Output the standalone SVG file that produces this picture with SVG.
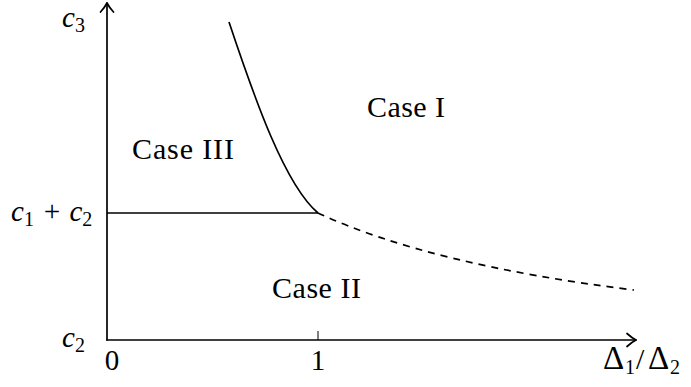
<svg xmlns="http://www.w3.org/2000/svg" width="691" height="387" viewBox="0 0 691 387">
<style>
.ax{fill:none;stroke:#000;stroke-width:1.7;stroke-linecap:round;stroke-linejoin:round}
.cv{fill:none;stroke:#000;stroke-width:1.7}
.ds{stroke-dasharray:7 6}
.t{font-family:"Liberation Serif","DejaVu Serif",serif;font-size:29px;fill:#000}
.c{font-family:"Liberation Serif","DejaVu Serif",serif;font-size:30px;fill:#000}
.m{font-family:"Liberation Serif","DejaVu Serif",serif;font-size:29px;font-style:italic;fill:#000}
.s{font-family:"Liberation Serif","DejaVu Serif",serif;font-style:normal;font-size:20px}
.d{font-size:33px}
</style>
<rect width="691" height="387" fill="#fff"/>
<g id="axes">
<path class="ax" d="M107,340 V3"/>
<path class="ax" d="M100.5,12 Q105,7 107,3 Q109,7 113.5,12"/>
<path class="ax" d="M107,340 H636"/>
<path class="ax" d="M627,333.5 Q632,338 636,340 Q632,342 627,346.5"/>
<path d="M318,331 V340" stroke="#000" stroke-width="1"/>
</g>
<g id="connectors">
<path class="cv" d="M107,213 H318"/>
<path class="cv" d="M229,22 C255,100 285,185 318,213"/>
<path class="cv ds" d="M318,213 Q430,265 634,290"/>
</g>
<g id="labels">
<text class="m" x="62" y="27">c<tspan class="s" dy="5">3</tspan></text>
<text class="m" x="11" y="221">c<tspan class="s" dy="5">1</tspan><tspan class="t" dy="-5" dx="8">+</tspan><tspan dx="8">c</tspan><tspan class="s" dy="5">2</tspan></text>
<text class="m" x="62" y="347">c<tspan class="s" dy="5">2</tspan></text>
<text class="t" x="112" y="370" text-anchor="middle">0</text>
<text class="t" x="318" y="370" text-anchor="middle">1</text>
<text class="c" y="369"><tspan class="d" x="603">Δ</tspan><tspan class="s" x="625" dy="5">1</tspan><tspan x="636" dy="-5">/</tspan><tspan class="d" x="648">Δ</tspan><tspan class="s" x="670" dy="5">2</tspan></text>
</g>
<g id="case-iii"><text class="c" x="132" y="159" textLength="102">Case III</text></g>
<g id="case-i"><text class="c" x="367" y="117" textLength="78">Case I</text></g>
<g id="case-ii"><text class="c" x="272" y="298" textLength="89">Case II</text></g>
</svg>
